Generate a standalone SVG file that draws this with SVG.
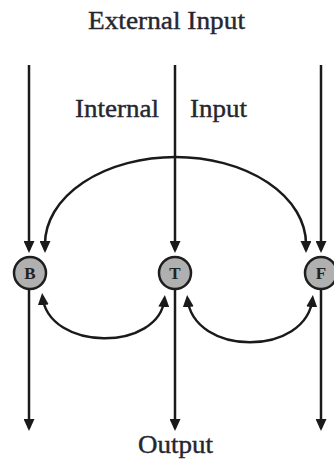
<svg xmlns="http://www.w3.org/2000/svg" width="334" height="465" viewBox="0 0 334 465">
<style>
.lbl{font-family:"Liberation Serif","Times New Roman",serif;font-size:26px;fill:#262630;stroke:#262630;stroke-width:0.4}
.edge{fill:none;stroke:#1a1a1a;stroke-width:2.5}
.node circle{fill:#b0b0b0;stroke:#1e1e1e;stroke-width:2.5}
.node text{font-family:"Liberation Serif","Times New Roman",serif;font-size:17px;font-weight:bold;fill:#222;text-anchor:middle}
</style>
<defs>
<marker id="ah" markerUnits="userSpaceOnUse" markerWidth="12" markerHeight="11" refX="9" refY="5.5" orient="auto-start-reverse" viewBox="0 0 12 11">
<path d="M0,0 L12,5.5 L0,11 z" fill="#1a1a1a"/>
</marker>
</defs>
<rect width="334" height="465" fill="#ffffff"/>
<text class="lbl" x="88" y="29" textLength="157" lengthAdjust="spacingAndGlyphs">External Input</text>
<text class="lbl" x="75" y="117" textLength="84" lengthAdjust="spacingAndGlyphs">Internal</text>
<text class="lbl" x="190" y="117" textLength="57" lengthAdjust="spacingAndGlyphs">Input</text>
<text class="lbl" x="138" y="453" textLength="75" lengthAdjust="spacingAndGlyphs">Output</text>
<g id="connectors">
<path class="edge" d="M29 65 L29 250" marker-end="url(#ah)"/>
<path class="edge" d="M175 65 L175 250" marker-end="url(#ah)"/>
<path class="edge" d="M321 65 L321 250" marker-end="url(#ah)"/>
<path class="edge" d="M29 289 L29 428" marker-end="url(#ah)"/>
<path class="edge" d="M175 289 L175 428" marker-end="url(#ah)"/>
<path class="edge" d="M321 289 L321 428" marker-end="url(#ah)"/>
<path class="edge" d="M45 250 L45 244 A130.5 87 0 0 1 306 244 L306 250" marker-start="url(#ah)" marker-end="url(#ah)"/>
<path class="edge" d="M42.4 296 C48 352 160 352 164.6 298" marker-start="url(#ah)" marker-end="url(#ah)"/>
<path class="edge" d="M187.4 298 C193 357 307 357 312.6 298" marker-start="url(#ah)" marker-end="url(#ah)"/>
</g>
<g id="node-B" class="node"><circle cx="30" cy="273" r="16"/><text x="30" y="279">B</text></g>
<g id="node-T" class="node"><circle cx="175" cy="273" r="16"/><text x="175" y="279">T</text></g>
<g id="node-F" class="node"><circle cx="321" cy="273" r="16"/><text x="321" y="279">F</text></g>
</svg>
